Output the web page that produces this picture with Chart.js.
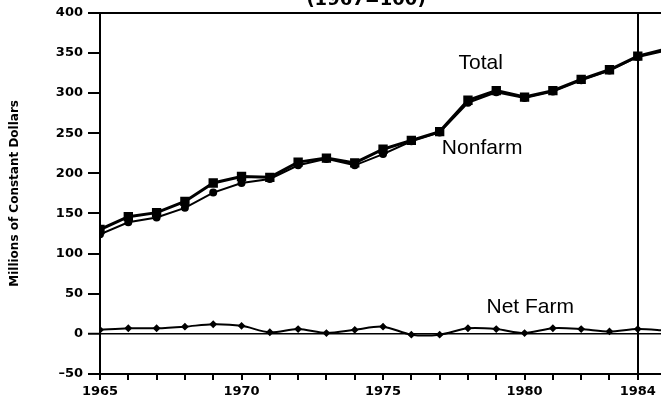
<!DOCTYPE html>
<html>
<head>
<meta charset="utf-8">
<script src="https://cdn.jsdelivr.net/npm/chart.js@4"></script>
<style>
  html, body { margin: 0; padding: 0; background: #fff; }
  #wrap { width: 661px; height: 400px; position: relative; }
</style>
</head>
<body>
<div id="wrap"><canvas id="chart"></canvas></div>
<script>
const years = [1965, 1966, 1967, 1968, 1969, 1970, 1971, 1972, 1973, 1974, 1975,
  1976, 1977, 1978, 1979, 1980, 1981, 1982, 1983, 1984, 1985];
const totalValues = [130, 146, 151, 165, 188, 196, 195, 214, 219, 213, 230,
  241, 252, 291, 303, 295, 303, 317, 329, 346, 355];
const nonfarmValues = [124, 139, 145, 157, 176, 188, 193, 210, 218, 210, 224,
  240, 251, 288, 301, 294, 302, 316, 328, 345, 353];
const netFarmValues = [5, 7, 7, 9, 12, 10, 2, 6, 1, 5, 9,
  -1, -1, 7, 6, 1, 7, 6, 3, 6, 4];
const yearLabels = [1965, 1970, 1975, 1980, 1984];
const seriesNotes = [
  { text: 'Total', x: 1978.45, y: 337 },
  { text: 'Nonfarm', x: 1978.5, y: 231 },
  { text: 'Net Farm', x: 1980.2, y: 33 },
];
const chartTitle = '(1967=100)';
const yTitle = 'Millions of Constant Dollars';

const tickFont = { family: 'DejaVu Sans', weight: 'bold', size: 13 };

function toPoints(values) {
  return years.map((yr, i) => ({ x: yr, y: values[i] }));
}

const notesPlugin = {
  id: 'notes',
  afterDatasetsDraw(chart) {
    const { ctx, scales } = chart;
    ctx.save();
    ctx.fillStyle = '#000';
    ctx.font = '21px "Liberation Sans", Arial, sans-serif';
    ctx.textAlign = 'center';
    ctx.textBaseline = 'middle';
    seriesNotes.forEach((note) => {
      ctx.fillText(note.text, scales.x.getPixelForValue(note.x), scales.y.getPixelForValue(note.y));
    });
    // title, cut off at the top of the picture
    ctx.font = 'bold 18px "DejaVu Sans", sans-serif';
    ctx.textBaseline = 'alphabetic';
    ctx.fillText(chartTitle, 366, 5);
    ctx.restore();
  },
};

new Chart(document.getElementById('chart'), {
  type: 'line',
  data: {
    datasets: [
      {
        label: 'Total',
        data: toPoints(totalValues),
        borderColor: '#000',
        backgroundColor: '#000',
        borderWidth: 3,
        pointStyle: 'rect',
        pointRadius: 4.5,
        tension: 0,
      },
      {
        label: 'Nonfarm',
        data: toPoints(nonfarmValues),
        borderColor: '#000',
        backgroundColor: '#000',
        borderWidth: 2,
        pointStyle: 'circle',
        pointRadius: 3,
        tension: 0,
      },
      {
        label: 'Net Farm',
        data: toPoints(netFarmValues),
        borderColor: '#000',
        backgroundColor: '#000',
        borderWidth: 2,
        pointStyle: 'rectRot',
        pointRadius: 2.5,
        tension: 0.3,
      },
    ],
  },
  options: {
    responsive: true,
    maintainAspectRatio: false,
    animation: false,
    layout: { autoPadding: false, padding: { top: 10, right: 0, left: 0, bottom: 0 } },
    plugins: {
      legend: { display: false },
      tooltip: { enabled: false },
    },
    scales: {
      x: {
        type: 'linear',
        min: 1965,
        max: 1984.82,
        afterFit(scale) {
          scale.height = 26;
          scale.paddingLeft = 0;
          scale.paddingRight = 0;
        },
        border: { color: '#000', width: 2 },
        grid: {
          drawOnChartArea: true,
          color: (ctx) => (ctx.tick && ctx.tick.value === 1984 ? '#000' : 'rgba(0,0,0,0)'),
          lineWidth: 2,
          tickColor: '#000',
          tickWidth: 2,
          tickLength: 6,
        },
        ticks: {
          stepSize: 1,
          maxTicksLimit: 25,
          includeBounds: false,
          autoSkip: false,
          maxRotation: 0,
          minRotation: 0,
          padding: 4,
          color: '#000',
          font: tickFont,
          callback: (value) => (yearLabels.includes(value) ? String(value) : ''),
        },
      },
      y: {
        min: -50,
        max: 400,
        afterFit(scale) { scale.width = 100; },
        border: { color: '#000', width: 2 },
        grid: {
          color: (ctx) => (ctx.tick && (ctx.tick.value === 0 || ctx.tick.value === 400) ? '#000' : 'rgba(0,0,0,0)'),
          lineWidth: (ctx) => (ctx.tick && ctx.tick.value === 0 ? 1.5 : 2),
          tickColor: '#000',
          tickWidth: 2,
          tickLength: 12,
        },
        ticks: {
          stepSize: 50,
          padding: 5,
          color: '#000',
          font: tickFont,
          callback: (value) => String(value).replace('-', '\u2013'),
        },
        title: {
          display: true,
          text: yTitle,
          color: '#000',
          font: { family: 'DejaVu Sans', weight: 'bold', size: 12 },
          padding: { top: 8, bottom: 0 },
        },
      },
    },
  },
  plugins: [notesPlugin],
});
</script>
</body>
</html>
